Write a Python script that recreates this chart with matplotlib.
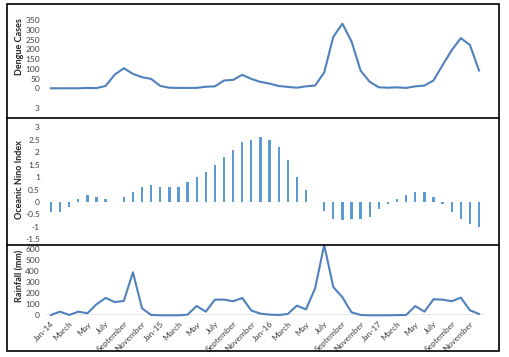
import numpy as np
import matplotlib
matplotlib.use('Agg')
import matplotlib.pyplot as plt
from matplotlib.lines import Line2D
from matplotlib.patches import Rectangle

plt.rcParams['font.family'] = ['Lato', 'DejaVu Sans']

# monthly values, Jan 2014 - Dec 2017
dengue = [0, 0, 0, 0, 2, 1, 12, 70, 103, 74, 57, 48,
          12, 3, 2, 2, 2, 8, 10, 40, 43, 69, 48, 33,
          24, 12, 7, 3, 10, 14, 81, 264, 331, 240, 90, 33,
          5, 3, 5, 2, 10, 14, 40, 119, 195, 257, 222, 91]
oni = [-0.4, -0.4, -0.2, 0.1, 0.3, 0.2, 0.1, 0.0, 0.2, 0.4, 0.6, 0.7,
       0.6, 0.6, 0.6, 0.8, 1.0, 1.2, 1.5, 1.8, 2.1, 2.4, 2.5, 2.6,
       2.5, 2.2, 1.7, 1.0, 0.5, 0.0, -0.35, -0.67, -0.74, -0.7, -0.7, -0.6,
       -0.3, -0.1, 0.1, 0.3, 0.4, 0.4, 0.2, -0.1, -0.4, -0.7, -0.9, -1.0]
rain = [3, 33, 3, 33, 18, 100, 157, 120, 130, 389, 63, 3,
        0, 0, 0, 6, 84, 33, 142, 142, 127, 157, 43, 15,
        6, 3, 12, 87, 54, 244, 636, 256, 163, 27, 3, 0,
        0, 0, 2, 3, 84, 33, 145, 142, 127, 160, 45, 12]

month_names = ['March', 'May', 'July', 'September', 'November']
tick_labels = []
for yr in ['14', '15', '16', '17']:
    tick_labels += ['Jan-' + yr] + month_names

W, H = 509, 357
fig = plt.figure(figsize=(W / 100, H / 100), dpi=100)

left_px, right_px = 45.5, 484.5


def add_ax(top_px, bot_px):
    return fig.add_axes([left_px / W, 1 - bot_px / H,
                         (right_px - left_px) / W, (bot_px - top_px) / H])


x = np.arange(len(dengue))
line_col = '#4f81bd'
bar_col = '#5b9bd5'

# dengue
ax1 = add_ax(20, 88.3)
ax1.plot(x, dengue, color=line_col, lw=1.5, clip_on=False)
ax1.set_yticks(range(0, 351, 50))
ax1.set_ylim(0, 350)
# stray "3" label under the zero line in the original
ax1.text(-0.0128, -106, '3', transform=ax1.get_yaxis_transform(),
         ha='right', va='center', fontsize=6, color='#404040')

# ONI
ax2 = add_ax(127.3, 239.3)
ax2.bar(x, oni, width=0.25, color=bar_col)
ax2.set_yticks(np.arange(-1.5, 3.01, 0.5))
ax2.set_yticklabels(['-1.5', '-1', '-0.5', '0', '0.5', '1', '1.5', '2', '2.5', '3'])
ax2.set_ylim(-1.5, 3)

# rainfall
ax3 = add_ax(249, 315.3)
ax3.axhline(0, color='#868686', lw=1)
ax3.plot(x, rain, color=line_col, lw=1.5, clip_on=False)
ax3.set_yticks(range(0, 601, 100))
ax3.set_ylim(0, 600)
ax3.set_xticks(x[::2])
ax3.set_xticklabels(tick_labels, rotation=45, ha='right', rotation_mode='anchor',
                    fontsize=5.5, color='#404040')

for ax in (ax1, ax2, ax3):
    ax.set_xlim(-0.6, 47.6)
    for s in ax.spines.values():
        s.set_visible(False)
    ax.tick_params(length=0, labelsize=6, labelcolor='#404040')
    ax.tick_params(axis='y', pad=4)
    if ax is not ax3:
        ax.set_xticks([])
    ax.patch.set_visible(False)

for label, yc in [('Dengue Cases', 47), ('Oceanic Nino Index', 180), ('Rainfall (mm)', 276)]:
    fig.text(20 / W, 1 - yc / H, label, rotation=90, ha='center', va='center',
             fontsize=6.5, fontweight='bold', color='#222222')

# panel frames
fig.add_artist(Rectangle((7 / W, 1 - 351 / H), 492 / W, 347 / H,
                         transform=fig.transFigure, fill=False, ec='black', lw=1.2))
for yp in (118, 245):
    fig.add_artist(Line2D([7 / W, 499 / W], [1 - yp / H, 1 - yp / H],
                          transform=fig.transFigure, color='black', lw=1.2))

fig.savefig('out.png', dpi=100)
